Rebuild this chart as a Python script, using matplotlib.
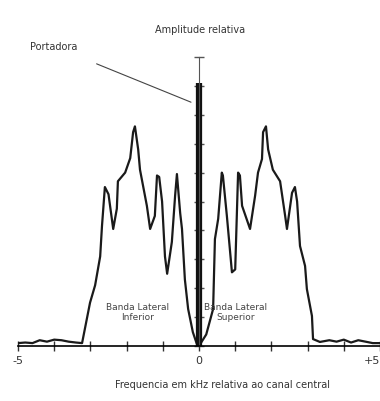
import matplotlib.pyplot as plt

# espectro AM: portadora + bandas laterais
freq = [-5.0, -4.8, -4.6, -4.4, -4.2, -4.0, -3.8, -3.6, -3.4, -3.23,
        -3.01, -2.87, -2.73, -2.68, -2.6, -2.5, -2.37, -2.27, -2.24, -2.04,
        -1.9, -1.82, -1.77, -1.68, -1.63, -1.44, -1.35, -1.22, -1.16, -1.1,
        -1.02, -0.94, -0.88, -0.75, -0.66, -0.61, -0.52, -0.47, -0.39, -0.3,
        -0.17, -0.06, 0.0,
        0.2, 0.39, 0.44, 0.53, 0.63, 0.66, 0.77, 0.91, 1.0, 1.08,
        1.13, 1.19, 1.41, 1.55, 1.63, 1.74, 1.77, 1.85, 1.91, 2.04,
        2.24, 2.38, 2.43, 2.57, 2.65, 2.71, 2.79, 2.93, 2.98, 3.12,
        3.15, 3.34, 3.6, 3.8, 4.0, 4.2, 4.4, 4.6, 4.8, 5.0]
amp = [0.1, 0.12, 0.1, 0.2, 0.15, 0.22, 0.2, 0.15, 0.12, 0.1,
       1.5, 2.1, 3.1, 4.15, 5.5, 5.25, 4.05, 4.75, 5.7, 6.0,
       6.5, 7.4, 7.6, 6.8, 6.1, 4.85, 4.05, 4.5, 5.9, 5.85,
       5.0, 3.1, 2.5, 3.6, 5.2, 5.95, 4.6, 4.05, 2.3, 1.28,
       0.48, 0.07, 0.0,
       0.4, 1.28, 3.7, 4.4, 6.0, 5.9, 4.5, 2.55, 2.65, 6.0,
       5.9, 4.85, 4.05, 5.2, 6.0, 6.47, 7.4, 7.6, 6.8, 6.1,
       5.7, 4.5, 4.05, 5.3, 5.5, 5.0, 3.46, 2.77, 1.97, 1.04,
       0.24, 0.14, 0.2, 0.15, 0.22, 0.12, 0.2, 0.15, 0.1, 0.1]
portadora_freq = 0
portadora_amp = 9.1

xtick_pos = list(range(-5, 6))
xtick_lab = ['-5', '', '', '', '', '0', '', '', '', '', '+5']
ytick_pos = list(range(0, 11))

fig = plt.figure(figsize=(3.8, 4.02), dpi=100)
ax = fig.add_axes([18/380, 55/402, 362/380, 289/402])
ax.plot(freq, amp, color='#1a1a1a', linewidth=1.6)
ax.vlines(portadora_freq, 0, portadora_amp, color='#111111', linewidth=4.5)

ax.set_xlim(-5, 5)
ax.set_ylim(0, 10)
ax.spines['top'].set_visible(False)
ax.spines['right'].set_visible(False)
ax.spines['left'].set_position(('data', 0))
ax.spines['bottom'].set_position(('data', 0))
ax.spines['left'].set_color('#555555')
ax.spines['bottom'].set_linewidth(1.2)
ax.set_xticks(xtick_pos)
ax.set_xticklabels(xtick_lab)
ax.get_xticklabels()[-1].set_ha('right')
ax.set_yticks(ytick_pos)
ax.set_yticklabels([])
ax.tick_params(axis='x', direction='inout', length=7, width=1, labelsize=8, pad=3, colors='#333333')
ax.tick_params(axis='y', direction='inout', length=7, width=1, colors='#555555')

fs = 7
fig.text(200/380, 1 - 30/402, 'Amplitude relativa', ha='center', va='center', fontsize=fs, color='#333333')
fig.text(30/380, 1 - 47/402, 'Portadora', ha='left', va='center', fontsize=fs, color='#333333')
ax.annotate('', xy=(-0.15, 8.4), xytext=(-2.9, 9.8), annotation_clip=False,
            arrowprops=dict(arrowstyle='-', color='#444444', linewidth=0.8))
ax.text(-1.7, 1.2, 'Banda Lateral\nInferior', ha='center', va='center', fontsize=6.5, color='#444444', linespacing=1.1)
ax.text(1.0, 1.2, 'Banda Lateral\nSuperior', ha='center', va='center', fontsize=6.5, color='#444444', linespacing=1.1)
fig.text(222/380, 1 - 385/402, 'Frequencia em kHz relativa ao canal central', ha='center', va='center',
         fontsize=fs, color='#333333')

fig.savefig('out.png', dpi=100, facecolor='white')
